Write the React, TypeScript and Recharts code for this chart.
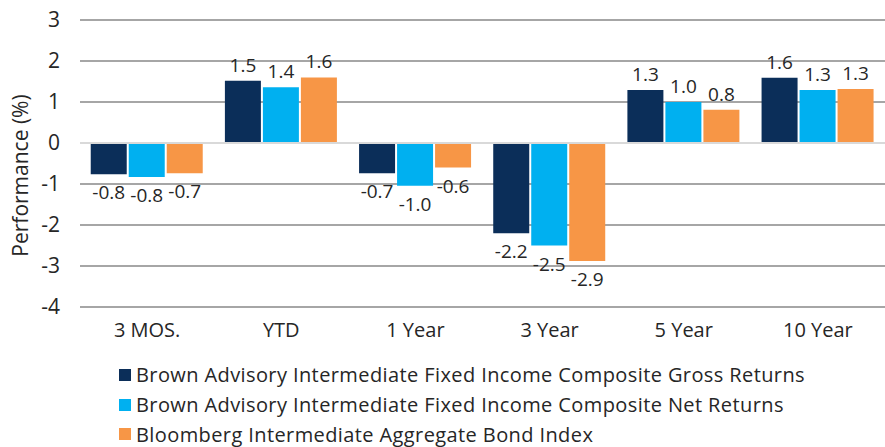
import {
  BarChart,
  Bar,
  XAxis,
  YAxis,
  CartesianGrid,
  Legend,
  LabelList,
  ReferenceLine,
} from 'recharts'

const categories = ['3 MOS.', 'YTD', '1 Year', '3 Year', '5 Year', '10 Year']
const grossReturns = [-0.76, 1.52, -0.74, -2.2, 1.29, 1.59]
const netReturns = [-0.83, 1.36, -1.04, -2.5, 1.0, 1.29]
const indexReturns = [-0.74, 1.6, -0.6, -2.88, 0.81, 1.32]
const yTicks = [-4, -3, -2, -1, 0, 1, 2, 3]

const seriesKeys = ['gross', 'net', 'index']
const seriesNames: Record<string, string> = {
  gross: 'Brown Advisory Intermediate Fixed Income Composite Gross Returns',
  net: 'Brown Advisory Intermediate Fixed Income Composite Net Returns',
  index: 'Bloomberg Intermediate Aggregate Bond Index',
}
const seriesColors: Record<string, string> = {
  gross: '#0b2e59',
  net: '#00b0f0',
  index: '#f79646',
}

const data = categories.map((name, i) => ({
  name,
  gross: grossReturns[i],
  net: netReturns[i],
  index: indexReturns[i],
}))

const FONT = '"Open Sans", sans-serif'
const TEXT = '#262626'

function ValueLabel(props: any) {
  const { x, y, width, height, value } = props
  const top = Math.min(y, y + height)
  const bottom = Math.max(y, y + height)
  const cy = value >= 0 ? top - 16 : bottom + 18
  return (
    <text
      x={x + width / 2}
      y={cy}
      textAnchor="middle"
      dominantBaseline="central"
      fontFamily={FONT}
      fontSize={19}
      fill={TEXT}
    >
      {Number(value).toFixed(1)}
    </text>
  )
}

function AxisTitle(props: any) {
  const { viewBox } = props
  const cx = 20
  const cy = viewBox.y + viewBox.height / 2 + 12
  return (
    <text
      x={cx}
      y={cy}
      transform={`rotate(-90, ${cx}, ${cy})`}
      textAnchor="middle"
      dominantBaseline="central"
      fontFamily={FONT}
      fontSize={21}
      fill={TEXT}
    >
      Performance (%)
    </text>
  )
}

// legend rows in series order (recharts sorts its payload otherwise)
function LegendBox() {
  return (
    <div style={{ height: 100, paddingTop: 13, paddingLeft: 119, boxSizing: 'border-box' }}>
      {seriesKeys.map((key) => (
        <div key={key} style={{ display: 'flex', alignItems: 'center', height: 29.7 }}>
          <span
            style={{
              width: 12,
              height: 12,
              background: seriesColors[key],
              marginRight: 5,
              display: 'inline-block',
            }}
          />
          <span
            style={{
              fontFamily: FONT,
              fontSize: 20,
              letterSpacing: 0.4,
              color: TEXT,
              whiteSpace: 'nowrap',
            }}
          >
            {seriesNames[key]}
          </span>
        </div>
      ))}
    </div>
  )
}

export default function App() {
  return (
    <div style={{ position: 'absolute', left: 0, top: 0, background: '#fff' }}>
      <BarChart
        width={885}
        height={447}
        data={data}
        margin={{ top: 20, right: 0, bottom: 0, left: 0 }}
        barCategoryGap="8%"
        barGap={2}
      >
        <CartesianGrid vertical={false} stroke="#a6a6a6" strokeWidth={2} />
        <ReferenceLine y={0} stroke="#d9d9d9" strokeWidth={2} />
        <XAxis
          dataKey="name"
          height={40}
          tickSize={0}
          tickMargin={16}
          axisLine={false}
          tick={{ fill: TEXT, fontSize: 20, fontFamily: FONT }}
        />
        <YAxis
          width={80}
          domain={[-4, 3]}
          ticks={yTicks}
          interval={0}
          tickSize={0}
          tickMargin={20}
          axisLine={false}
          tick={{ fill: TEXT, fontSize: 21, fontFamily: FONT }}
          label={<AxisTitle />}
        />
        <Legend
          verticalAlign="bottom"
          align="left"
          layout="horizontal"
          content={<LegendBox />}
          wrapperStyle={{ left: 0, width: 885, height: 100 }}
        />
        {seriesKeys.map((key) => (
          <Bar
            key={key}
            dataKey={key}
            name={seriesNames[key]}
            fill={seriesColors[key]}
            isAnimationActive={false}
          >
            <LabelList dataKey={key} content={<ValueLabel />} />
          </Bar>
        ))}
      </BarChart>
    </div>
  )
}
